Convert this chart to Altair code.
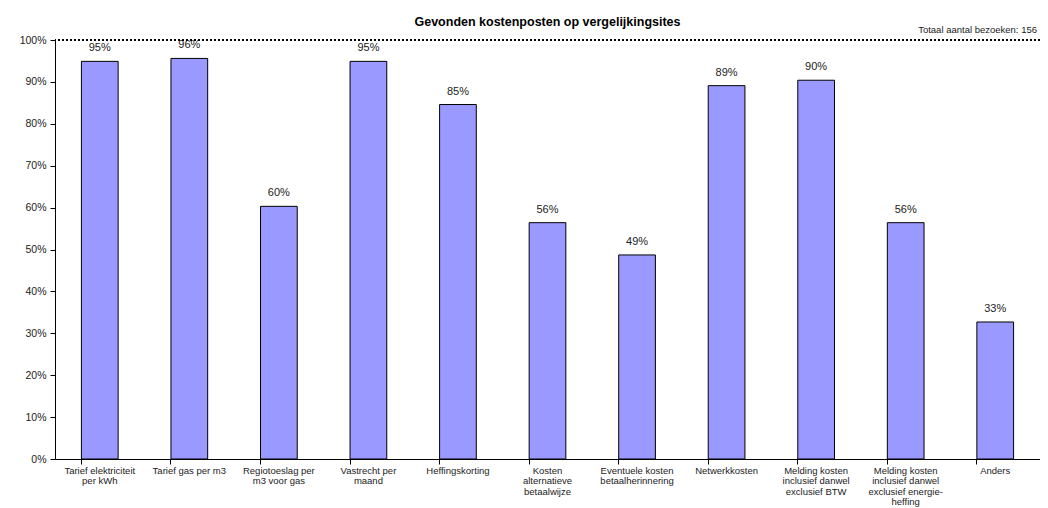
import altair as alt
import pandas as pd

categories = [
    "Tarief elektriciteit|per kWh",
    "Tarief gas per m3",
    "Regiotoeslag per|m3 voor gas",
    "Vastrecht per|maand",
    "Heffingskorting",
    "Kosten|alternatieve|betaalwijze",
    "Eventuele kosten|betaalherinnering",
    "Netwerkkosten",
    "Melding kosten|inclusief danwel|exclusief BTW",
    "Melding kosten|inclusief danwel|exclusief energie-|heffing",
    "Anders",
]
values = [0.949, 0.956, 0.603, 0.949, 0.846, 0.564, 0.487, 0.891, 0.904, 0.564, 0.327]
y_ticks = [0, 0.1, 0.2, 0.3, 0.4, 0.5, 0.6, 0.7, 0.8, 0.9, 1.0]
title_text = "Gevonden kostenposten op vergelijkingsites"
note_text = "Totaal aantal bezoeken: 156"

df = pd.DataFrame({"cat": categories, "val": values})

W, H = 985, 419
FONT = "Liberation Sans"

xscale = alt.Scale(paddingInner=0.59, paddingOuter=0.295)
yscale = alt.Scale(domain=[0, 1], nice=False)

yaxis = alt.Axis(values=y_ticks, format=".0%", title=None, grid=False,
                 tickSize=5, tickColor="black", domainColor="black",
                 labelFontSize=10.5, labelColor="#222", labelPadding=4, labelFont=FONT)

bars = alt.Chart(df).mark_bar(color="#9999FF", stroke="black", strokeWidth=1).encode(
    x=alt.X("cat:N", sort=categories, scale=xscale,
            axis=alt.Axis(title=None, labelAngle=0, ticks=False, domainColor="black",
                          labelExpr="split(datum.label, '|')", labelFontSize=9.5,
                          labelColor="#222", labelPadding=6, labelLineHeight=10.5,
                          labelFont=FONT, orient="bottom", labelLimit=200)),
    y=alt.Y("val:Q", scale=yscale, axis=yaxis),
)

texts = alt.Chart(df).mark_text(baseline="bottom", dy=-8, fontSize=11, font=FONT, color="#222").encode(
    x=alt.X("cat:N", sort=categories, scale=xscale,
            axis=alt.Axis(title=None, labels=False, domain=False, ticks=True, tickSize=5,
                          tickColor="black", bandPosition=0, orient="bottom")),
    y=alt.Y("val:Q", scale=yscale, axis=yaxis),
    text=alt.Text("val:Q", format=".0%"),
)

top_rule = alt.Chart(pd.DataFrame({"v": [1.0]})).mark_rule(
    color="black", strokeDash=[2, 2], strokeWidth=2
).encode(y=alt.Y("v:Q", scale=yscale, axis=yaxis))

note = alt.Chart(pd.DataFrame({"t": [note_text]})).mark_text(
    align="right", baseline="bottom", fontSize=9.5, font=FONT, color="#222"
).encode(x=alt.value(W - 3), y=alt.value(-5), text="t:N")

chart = alt.layer(bars, texts, top_rule, note).resolve_axis(x="independent").properties(
    width=W, height=H,
    title=alt.TitleParams(title_text, fontSize=12.5, font=FONT, fontWeight="bold",
                          anchor="middle", offset=-3, color="black"),
    autosize=alt.AutoSizeParams(type="none"),
    padding={"left": 47, "top": 32, "right": 0, "bottom": 49},
).configure_view(stroke=None)

chart.save("out.html", embed_options={"renderer": "svg", "actions": False})
